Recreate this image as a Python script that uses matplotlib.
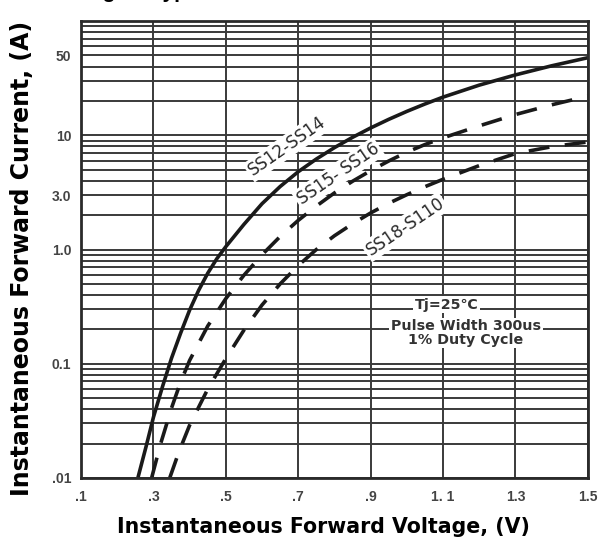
import matplotlib
matplotlib.use("Agg")
import matplotlib.pyplot as plt
import numpy as np

plt.rcParams['font.family'] = ['Liberation Sans', 'DejaVu Sans']

# data
v_ss12 = [0.257, 0.28, 0.30, 0.325, 0.35, 0.375, 0.40, 0.425, 0.45, 0.475, 0.50, 0.55, 0.60,
          0.65, 0.70, 0.75, 0.80, 0.85, 0.90, 0.95, 1.00, 1.05, 1.10, 1.20, 1.30, 1.40, 1.50]
i_ss12 = [0.01, 0.019, 0.034, 0.063, 0.112, 0.185, 0.295, 0.44, 0.62, 0.83, 1.06, 1.66, 2.52,
          3.56, 4.8, 6.2, 7.8, 9.6, 11.6, 13.8, 16.2, 18.8, 21.6, 27.5, 33.8, 40.6, 47.8]

v_ss15 = [0.295, 0.32, 0.35, 0.375, 0.40, 0.45, 0.50, 0.55, 0.60, 0.65, 0.70, 0.75, 0.80,
          0.85, 0.90, 0.95, 1.00, 1.05, 1.10, 1.20, 1.30, 1.40, 1.50]
i_ss15 = [0.01, 0.020, 0.041, 0.069, 0.107, 0.214, 0.372, 0.596, 0.90, 1.30, 1.80, 2.40, 3.13,
          3.96, 4.9, 5.96, 7.12, 8.3, 9.5, 12.1, 15.2, 18.5, 22]

v_ss18 = [0.345, 0.37, 0.40, 0.45, 0.50, 0.55, 0.60, 0.65, 0.70, 0.75, 0.80, 0.85, 0.90,
          0.95, 1.00, 1.05, 1.10, 1.20, 1.30, 1.40, 1.50]
i_ss18 = [0.01, 0.0168, 0.029, 0.060, 0.111, 0.197, 0.327, 0.50, 0.724, 1.0, 1.32, 1.68, 2.09,
          2.54, 3.02, 3.55, 4.12, 5.43, 6.92, 7.95, 8.75]

x_ticks = [0.1, 0.3, 0.5, 0.7, 0.9, 1.1, 1.3, 1.5]
x_ticklabels = [".1", ".3", ".5", ".7", ".9", "1. 1", "1.3", "1.5"]
y_ticks = [50, 10, 3.0, 1.0, 0.1, 0.01]
y_ticklabels = ["50", "10", "3.0", "1.0", "0.1", ".01"]

labels = ["SS12-SS14", "SS15- SS16", "SS18-S110"]
label_pos = [(0.669, 8.0), (0.810, 4.6), (0.995, 1.58)]
label_rot = [35, 34.5, 34]

note_lines = ["Tj=25\u2103", "Pulse Width 300us", "1% Duty Cycle"]
note_pos = [(1.11, 0.33), (1.163, 0.212), (1.163, 0.163)]

fig = plt.figure(figsize=(5.98, 5.41), dpi=100)
ax = fig.add_axes([0.1355, 0.1165, 0.8475, 0.8445])
ax.set_yscale('log')
ax.set_xlim(0.1, 1.5)
ax.set_ylim(0.01, 100)

gc = '#3a3a3a'
ax.set_xticks(x_ticks)
ax.set_xticklabels(x_ticklabels)
ax.set_yticks(y_ticks)
ax.set_yticklabels(y_ticklabels)
ax.yaxis.set_minor_locator(matplotlib.ticker.LogLocator(base=10, subs=np.arange(2, 10)))
ax.yaxis.set_minor_formatter(matplotlib.ticker.NullFormatter())
ax.grid(True, which='major', color=gc, lw=1.4)
ax.grid(True, which='minor', axis='y', color=gc, lw=1.4)
ax.tick_params(which='both', length=0, labelsize=10, labelcolor='#444444')
ax.tick_params(axis='x', pad=9)
ax.tick_params(axis='y', pad=7)
for lab in ax.get_xticklabels() + ax.get_yticklabels():
    lab.set_fontweight('bold')
for s in ax.spines.values():
    s.set_linewidth(2.0)
    s.set_color('#2a2a2a')

ax.plot(v_ss12, i_ss12, color='#1a1a1a', lw=2.6, solid_capstyle='butt')
ax.plot(v_ss15, i_ss15, color='#1a1a1a', lw=2.6, dashes=(5.8, 4.3))
ax.plot(v_ss18, i_ss18, color='#1a1a1a', lw=2.6, dashes=(5.8, 4.3))

bb = dict(boxstyle='square,pad=0.12', fc='white', ec='none')
for txt, (x, y), r in zip(labels, label_pos, label_rot):
    ax.text(x, y, txt, rotation=r, rotation_mode='anchor', ha='center', va='center',
            fontsize=12, family='DejaVu Sans', color='#2a2a2a', bbox=bb)

for txt, (x, y) in zip(note_lines, note_pos):
    ax.text(x, y, txt, ha='center', va='center', fontsize=10.3, family='DejaVu Sans',
            fontweight='bold', color='#333333', bbox=bb)

ax.set_xlabel("Instantaneous Forward Voltage, (V)", fontsize=14.8, fontweight='bold',
              family='DejaVu Sans')
ax.xaxis.set_label_coords(0.479, -0.107)
ax.xaxis.label.set_va('center')
ax.set_ylabel("Instantaneous Forward Current, (A)", fontsize=17, fontweight='bold',
              family='DejaVu Sans')
ax.yaxis.set_label_coords(-0.116, 0.481)
ax.yaxis.label.set_va('center')

# title line of the datasheet, mostly cropped off at the top as in the reference
fig.text(84 / 598, 1 + 2.5 / 541, "Fig.2 - Typical Forward Characteristics", fontsize=15,
         fontweight='bold', ha='left', va='baseline')

fig.savefig("out.png", dpi=100)
